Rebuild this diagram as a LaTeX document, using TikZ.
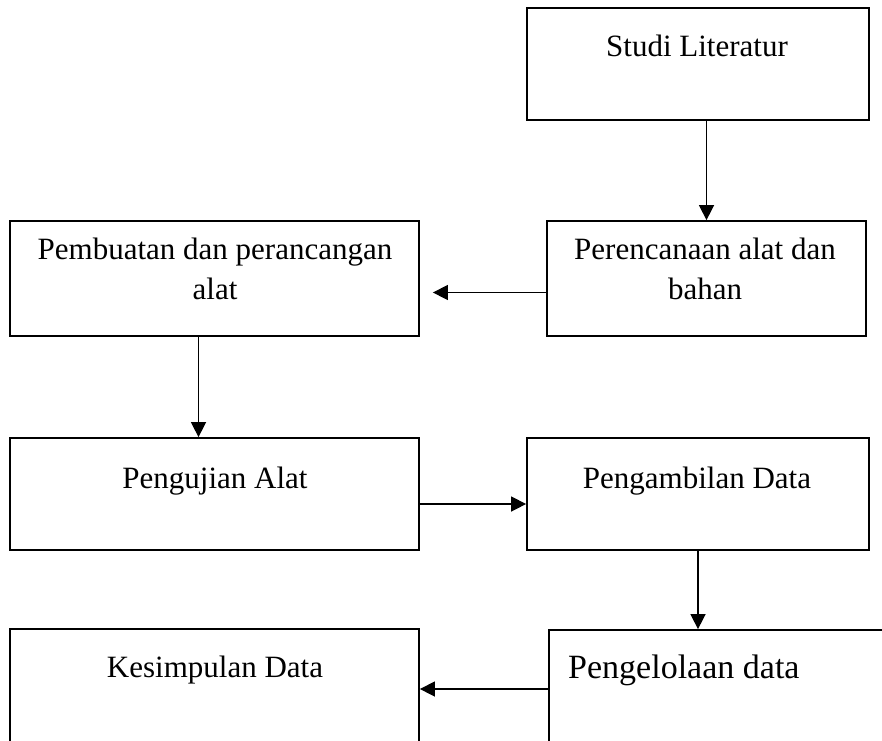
\documentclass[tikz,border=0pt]{standalone}
\usepackage{fontspec}
\setmainfont{Liberation Serif}
\usetikzlibrary{arrows.meta}

\begin{document}
\begin{tikzpicture}[x=1pt, y=-1pt,
            box/.style={draw, line width=1.8pt, inner sep=0pt},
            txt/.style={font=\fontsize{31}{40}\selectfont, align=center, inner sep=0pt, anchor=base},
            arr/.style={line width=1.5pt, -{Triangle[width=15pt,length=15pt]}}]
            \clip (0,0) rectangle (882,740);
            \fill[white] (0,0) rectangle (882,740);
            % kotak
            \node[box, minimum width=342pt, minimum height=112pt] (studi) at (698,64) {};
            \node[box, minimum width=319pt, minimum height=115pt] (renc) at (706.5,278.5) {};
            \node[box, minimum width=409pt, minimum height=115pt] (buat) at (214.5,278.5) {};
            \node[box, minimum width=409pt, minimum height=112pt] (uji) at (214.5,494) {};
            \node[box, minimum width=342pt, minimum height=112pt] (ambil) at (698,494) {};
            \node[box, minimum width=400pt, minimum height=118pt] (olah) at (749,689) {};
            \node[box, minimum width=409pt, minimum height=120pt] (simpul) at (214.5,689) {};
            % teks
            \node[txt] (tstudi) at (697,56) {Studi Literatur};
            \node[txt] (trenc) at (705,299) {Perencanaan alat dan\\bahan};
            \node[txt] (tbuat) at (215,299) {Pembuatan dan perancangan\\alat};
            \node[txt] (tuji) at (215,488) {Pengujian Alat};
            \node[txt] (tambil) at (697,488) {Pengambilan Data};
            \node[txt, anchor=base west, font=\fontsize{34}{40}\selectfont] (tolah) at (568,678) {Pengelolaan data};
            \node[txt] (tsimpul) at (215,677) {Kesimpulan Data};
            % panah
            \draw[arr] (studi.south -| renc.north) -- (renc.north);
            \draw[arr] ([yshift=-14pt]renc.west) -- ([xshift=13pt,yshift=-14pt]buat.east);
            \draw[arr] ([xshift=-16pt]buat.south) -- ([xshift=-16pt]uji.north);
            \draw[arr] ([yshift=-10pt]uji.east) -- ([yshift=-10pt]ambil.west);
            \draw[arr] (ambil.south) -- (ambil.south |- olah.north);
            \draw[arr] (olah.west) -- (simpul.east);
        \end{tikzpicture}
\end{document}
